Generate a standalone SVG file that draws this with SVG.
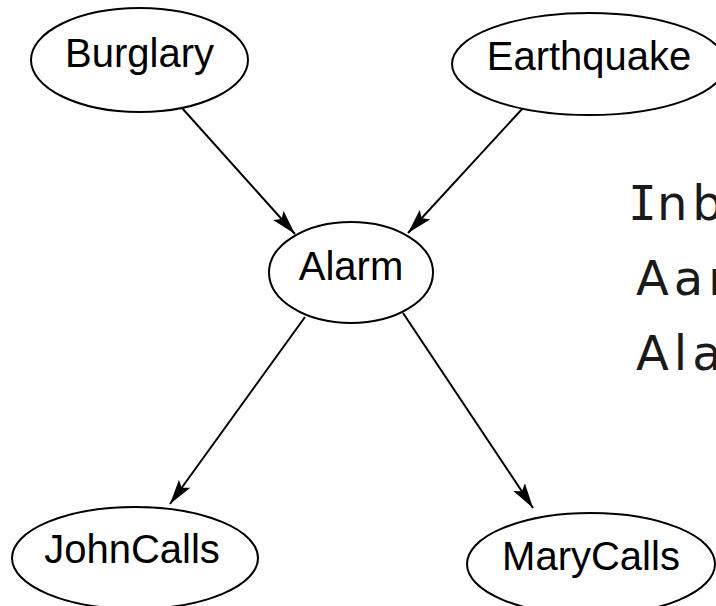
<svg xmlns="http://www.w3.org/2000/svg" width="716" height="606" viewBox="0 0 716 606">
<style>
  .node ellipse { fill: #ffffff; stroke: #000000; stroke-width: 2; }
  .node text { font-family: "Liberation Sans", Arial, sans-serif; font-size: 40px; fill: #000000; text-anchor: middle; }
  .edge { stroke: #000000; stroke-width: 2; fill: none; marker-end: url(#arrow); }
  .side { font-family: "DejaVu Sans", "Liberation Sans", sans-serif; font-size: 48px; fill: #1a1a1a; letter-spacing: 5px; }
  .serifI { font-family: "DejaVu Sans Mono", monospace; letter-spacing: 0; }
</style>
<defs>
  <marker id="arrow" markerUnits="userSpaceOnUse" markerWidth="28" markerHeight="16" refX="25" refY="8" orient="auto">
    <path d="M0,1 L25,8 L0,15 L5,8 z" fill="#000000"/>
  </marker>
</defs>
<rect width="716" height="606" fill="#ffffff"/>
<g id="connectors">
  <line class="edge" x1="182" y1="108" x2="295" y2="234"/>
  <line class="edge" x1="523" y1="108" x2="408" y2="233"/>
  <line class="edge" x1="305" y1="317" x2="170" y2="504"/>
  <line class="edge" x1="403" y1="313" x2="533" y2="508"/>
</g>
<g id="burglary" class="node">
  <ellipse cx="139.5" cy="60" rx="108.5" ry="52"/>
  <text x="139.5" y="67">Burglary</text>
</g>
<g id="earthquake" class="node">
  <ellipse cx="589" cy="64" rx="137" ry="51"/>
  <text x="589" y="70">Earthquake</text>
</g>
<g id="alarm" class="node">
  <ellipse cx="351" cy="272.5" rx="82" ry="50.5"/>
  <text x="351" y="280">Alarm</text>
</g>
<g id="johncalls" class="node">
  <ellipse cx="135" cy="558" rx="123" ry="51"/>
  <text x="132" y="563">JohnCalls</text>
</g>
<g id="marycalls" class="node">
  <ellipse cx="591" cy="564" rx="124" ry="51"/>
  <text x="591" y="570">MaryCalls</text>
</g>
<g id="side-text">
  <text class="side" x="628" y="220"><tspan class="serifI">I</tspan>nb</text>
  <text class="side" x="636" y="295">Aar</text>
  <text class="side" x="636" y="370">Ala</text>
</g>
</svg>
